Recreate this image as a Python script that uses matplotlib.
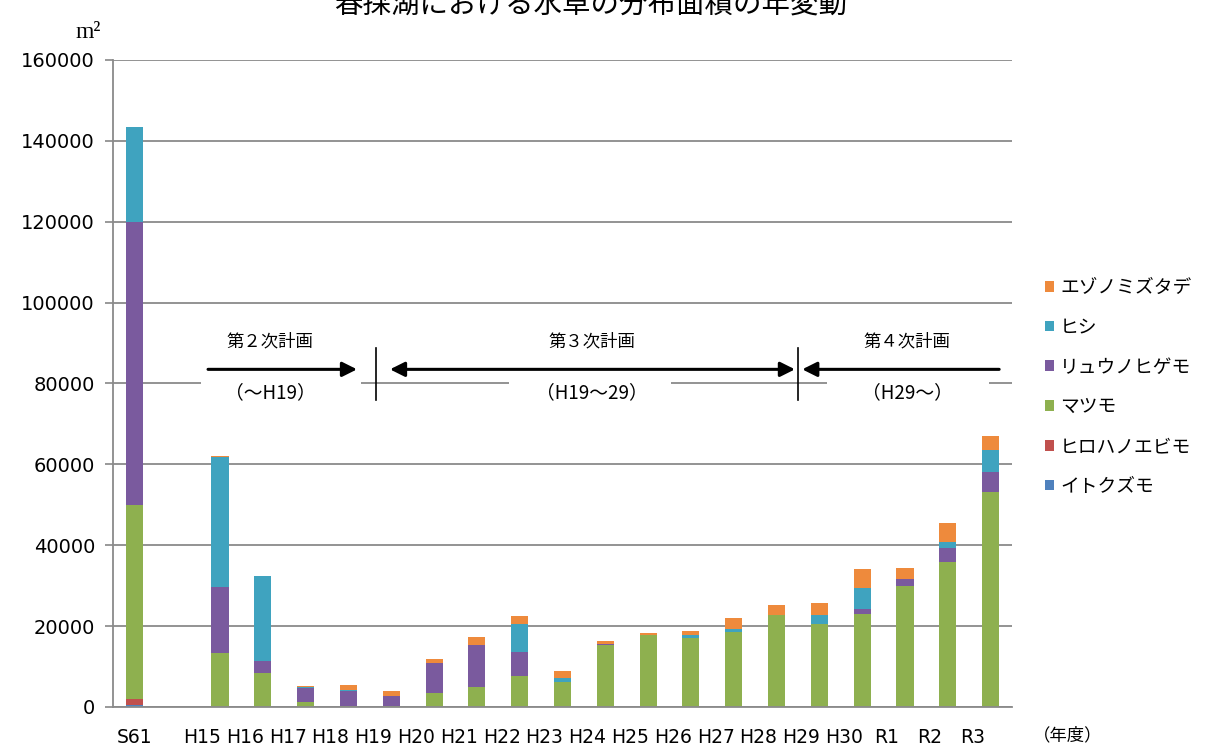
import matplotlib
matplotlib.use('Agg')
import numpy as np
import matplotlib.pyplot as plt
import matplotlib.transforms as mtransforms
from matplotlib.patches import Patch, Rectangle

plt.rcParams['font.family'] = ['Noto Sans CJK JP', 'DejaVu Sans']

years = ['S61', '', 'H15', 'H16', 'H17', 'H18', 'H19', 'H20', 'H21', 'H22', 'H23',
         'H24', 'H25', 'H26', 'H27', 'H28', 'H29', 'H30', 'R1', 'R2', 'R3']

# 分布面積 (m2), stacked from the bottom
itokuzumo = [600, 0, 0, 0, 0, 0, 0, 0, 0, 0, 0, 0, 0, 0, 0, 0, 0, 0, 0, 0, 0]
hirohanoebimo = [1500, 0, 0, 0, 0, 0, 0, 0, 0, 0, 0, 0, 0, 0, 0, 0, 0, 0, 0, 0, 0]
matsumo = [47900, 0, 13300, 8300, 1200, 300, 300, 3500, 5000, 7700, 6200,
           15300, 17800, 17000, 18600, 22700, 20500, 23000, 29900, 35800, 53100]
ryunohigemo = [70000, 0, 16400, 3100, 3500, 3700, 2300, 7400, 10300, 5900, 0,
               300, 0, 0, 0, 0, 0, 1200, 1700, 3500, 5000]
hishi = [23500, 0, 32100, 20900, 300, 300, 0, 0, 0, 6900, 1000,
         0, 0, 800, 800, 0, 2300, 5200, 0, 1500, 5400]
ezonomizutade = [0, 0, 300, 200, 200, 1200, 1400, 900, 2000, 2000, 1800,
                 700, 500, 1000, 2600, 2500, 2900, 4700, 2800, 4700, 3500]

series = [
    ('イトクズモ', itokuzumo, '#4F81BD'),
    ('ヒロハノエビモ', hirohanoebimo, '#C0504D'),
    ('マツモ', matsumo, '#8EB04F'),
    ('リュウノヒゲモ', ryunohigemo, '#7A5A9E'),
    ('ヒシ', hishi, '#3FA3BF'),
    ('エゾノミズタデ', ezonomizutade, '#EE8A3C'),
]

fig = plt.figure(figsize=(12.24, 7.47), dpi=100)
ax = fig.add_axes([113 / 1224, 40 / 747, 899 / 1224, 647 / 747])

x = np.arange(len(years))
bottom = np.zeros(len(years))
for name, vals, col in series:
    vals = np.array(vals, dtype=float)
    ax.bar(x, vals, width=0.4, bottom=bottom, color=col, zorder=2)
    bottom += vals

ax.set_xlim(-0.5, len(years) - 0.5)
ax.set_ylim(0, 160000)
ax.set_yticks(np.arange(0, 160001, 20000))
ax.set_yticklabels([str(v) for v in range(0, 160001, 20000)], fontfamily='DejaVu Sans', fontsize=14)
ax.set_xticks(x)
ax.set_xticklabels(years, fontfamily='DejaVu Sans', fontsize=13.5)
ax.tick_params(axis='y', length=6, width=1.2, color='#888888', pad=7)
ax.tick_params(axis='x', length=0, pad=15)
# year labels after the gap sit a little left of their bars
shift = mtransforms.ScaledTranslation(-0.18, 0, fig.dpi_scale_trans)
for lbl in ax.get_xticklabels()[2:]:
    lbl.set_transform(lbl.get_transform() + shift)
ax.yaxis.grid(True, color='#8a8a8a', lw=1.3)
ax.set_axisbelow(True)
for s in ['top', 'right']:
    ax.spines[s].set_visible(False)
for s in ['left', 'bottom']:
    ax.spines[s].set_color('#8a8a8a')
    ax.spines[s].set_linewidth(1.3)

# plan periods
y_arrow = 83500
y_text_top = 90500
y_text_bot = 77800
arrow = dict(color='black', lw=2.2, mutation_scale=22, shrinkA=0, shrinkB=0)
ax.annotate('', xy=(5.2, y_arrow), xytext=(1.72, y_arrow),
            arrowprops=dict(arrowstyle='-|>', **arrow))
ax.annotate('', xy=(15.43, y_arrow), xytext=(5.97, y_arrow),
            arrowprops=dict(arrowstyle='<|-|>', **arrow))
ax.annotate('', xy=(15.6, y_arrow), xytext=(20.2, y_arrow),
            arrowprops=dict(arrowstyle='-|>', **arrow))
for xv in [5.65, 15.5]:
    ax.plot([xv, xv], [76000, 88800], color='black', lw=1.2, zorder=3)

for x0, x1 in [(1.55, 5.3), (8.76, 12.54), (16.18, 19.96)]:
    ax.add_patch(Rectangle((x0, 73500), x1 - x0, 7800, facecolor='white',
                           edgecolor='none', zorder=1))

plans = [(3.17, '第２次計画', '（～H19）'),
         (10.68, '第３次計画', '（H19～29）'),
         (18.05, '第４次計画', '（H29～）')]
for xv, top, bot in plans:
    ax.text(xv, y_text_top, top, ha='center', va='center', fontsize=12.5, zorder=4)
    ax.text(xv, y_text_bot, bot, ha='center', va='center', fontsize=13.5, zorder=4)

fig.text(591 / 1224, 1 - 5 / 747, '春採湖における水草の分布面積の年変動',
         ha='center', va='center', fontsize=20.5)
fig.text(88 / 1224, 1 - 32 / 747, 'm²', family='Liberation Serif',
         ha='center', va='center', fontsize=17)
fig.text(1068 / 1224, 1 - 735 / 747, '（年度）', ha='center', va='center', fontsize=12.5)

handles = [Patch(facecolor=col, label=name) for name, vals, col in series][::-1]
fig.legend(handles=handles, loc='upper left', bbox_to_anchor=(1045 / 1224, 1 - 277 / 747),
           frameon=False, fontsize=13.5, handlelength=0.5, handleheight=0.5,
           handletextpad=0.3, labelspacing=1.0, borderaxespad=0, borderpad=0)

fig.savefig('out.png', dpi=100)
